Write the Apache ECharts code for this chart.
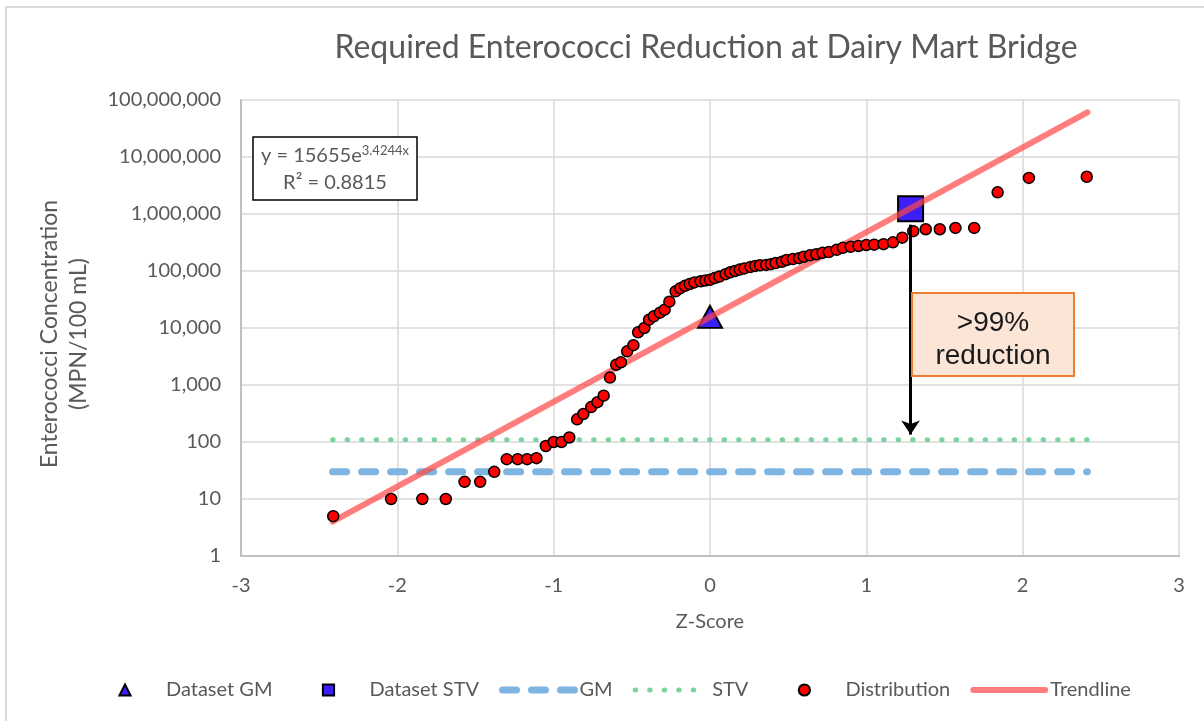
<!DOCTYPE html>
<html>
<head>
<meta charset="utf-8">
<style>
  html, body { margin: 0; padding: 0; background: #fff; }
  #chart { width: 1204px; height: 721px; }
</style>
<script src="https://cdn.jsdelivr.net/npm/echarts@6/dist/echarts.min.js"></script>
</head>
<body>
<div id="chart"></div>
<script>
// z-scores and concentrations of the ranked samples
const distZ = [
  -2.41, -2.04, -1.84, -1.69, -1.57, -1.47, -1.38, -1.30, -1.23, -1.17,
  -1.11, -1.05, -1.00, -0.95, -0.90, -0.85, -0.81, -0.76, -0.72, -0.68,
  -0.64, -0.60, -0.57, -0.53, -0.49, -0.46, -0.42, -0.39, -0.36, -0.32,
  -0.29, -0.26, -0.22, -0.19, -0.16, -0.13, -0.10, -0.06, -0.03, 0.00,
  0.03, 0.06, 0.10, 0.13, 0.16, 0.19, 0.22, 0.26, 0.29, 0.32,
  0.36, 0.39, 0.42, 0.46, 0.49, 0.53, 0.57, 0.60, 0.64, 0.68,
  0.72, 0.76, 0.81, 0.85, 0.90, 0.95, 1.00, 1.05, 1.11, 1.17,
  1.23, 1.30, 1.38, 1.47, 1.57, 1.69, 1.84, 2.04, 2.41
]
const distValues = [
  5, 10, 10, 10, 20, 20, 30, 50, 50, 50,
  52, 85, 100, 100, 120, 250, 310, 410, 500, 650,
  1350, 2270, 2500, 3900, 5000, 8400, 10000, 14000, 16000, 18600,
  21000, 29000, 44000, 50000, 55000, 59000, 63000, 66000, 68000, 70000,
  75000, 80000, 88000, 95000, 100000, 106000, 111000, 118000, 123000, 126000,
  128000, 132000, 138000, 145000, 156000, 162000, 168000, 178000, 188000, 197000,
  208000, 215000, 235000, 255000, 265000, 275000, 286000, 290000, 296000, 318000,
  385000, 500000, 540000, 540000, 570000, 570000, 2400000, 4300000, 4500000
]

const datasetGM = [0, 15700]
const datasetSTV = [1.283, 1240000]
const criteriaZ = [-2.414, 2.414]
const gmCriterion = 30
const stvCriterion = 110
const trendZ = [-2.414, 2.414]
const trendValues = [4.02, 60900000]
const arrowFrom = [1.283, 650000]
const arrowTo = [1.283, 135]

const FONT = 'Lato, "Open Sans", sans-serif'
const GREY = '#595959'

const chart = echarts.init(document.getElementById('chart'))

chart.setOption({
  animation: false,
  backgroundColor: '#fff',
  title: {
    text: 'Required Enterococci Reduction at Dairy Mart Bridge',
    left: 701,
    top: 27,
    textAlign: 'center',
    textStyle: { fontFamily: FONT, fontWeight: 400, fontSize: 32, color: GREY }
  },
  grid: { left: 241, right: 25, top: 100, bottom: 165 },
  legend: {
    left: 84,
    top: 675,
    itemWidth: 72,
    itemHeight: 14,
    itemGap: 20,
    selectedMode: false,
    textStyle: { fontFamily: FONT, fontSize: 20, color: GREY },
    data: [
      { name: 'Dataset GM' },
      { name: 'Dataset STV' },
      { name: 'GM', itemStyle: { opacity: 0 }, lineStyle: { width: 7 } },
      { name: 'STV', itemStyle: { opacity: 0 }, lineStyle: { width: 5 } },
      { name: 'Distribution' },
      { name: 'Trendline', itemStyle: { opacity: 0 }, lineStyle: { width: 6 } }
    ]
  },
  xAxis: {
    type: 'value',
    min: -3,
    max: 3,
    interval: 1,
    name: 'Z-Score',
    nameLocation: 'middle',
    nameGap: 56,
    nameTextStyle: { fontFamily: FONT, fontSize: 20, color: GREY },
    axisLine: { onZero: false, lineStyle: { color: '#BFBFBF', width: 2 } },
    axisTick: { show: false },
    axisLabel: { fontFamily: FONT, fontSize: 20, color: GREY, margin: 20 },
    splitLine: { lineStyle: { color: '#D9D9D9', width: 1.5 } }
  },
  yAxis: {
    type: 'log',
    logBase: 10,
    min: 1,
    max: 100000000,
    interval: 1,
    axisLine: { show: true, onZero: false, lineStyle: { color: '#BFBFBF', width: 2 } },
    axisTick: { show: false },
    axisLabel: {
      fontFamily: FONT, fontSize: 20, color: GREY, margin: 20,
      formatter: (v) => Math.round(v).toLocaleString('en-US')
    },
    splitLine: { lineStyle: { color: '#D9D9D9', width: 1.5 } }
  },
  series: [
    {
      name: 'Dataset GM',
      type: 'line',
      data: [datasetGM],
      symbol: 'triangle',
      symbolSize: [24, 22],
      itemStyle: { color: '#3C1EF8', borderColor: '#000', borderWidth: 2 },
      lineStyle: { width: 0 },
      z: 2,
      silent: true
    },
    {
      name: 'Dataset STV',
      type: 'line',
      data: [datasetSTV],
      symbol: 'rect',
      symbolSize: 25,
      itemStyle: { color: '#3C1EF8', borderColor: '#000', borderWidth: 2 },
      lineStyle: { width: 0 },
      z: 2,
      silent: true,
      markLine: {
        silent: true,
        symbol: ['none', 'arrow'],
        symbolSize: [14, 14],
        label: { show: false },
        lineStyle: { color: '#000', width: 3, type: 'solid' },
        emphasis: { disabled: true },
        data: [[{ coord: arrowFrom }, { coord: arrowTo }]]
      }
    },
    {
      name: 'GM',
      type: 'line',
      data: criteriaZ.map((z) => [z, gmCriterion]),
      symbol: 'none',
      lineStyle: { color: '#7EB4E2', width: 7, type: [14, 15], cap: 'round' },
      itemStyle: { color: '#7EB4E2' },
      z: 2,
      silent: true
    },
    {
      name: 'STV',
      type: 'line',
      data: criteriaZ.map((z) => [z, stvCriterion]),
      symbol: 'none',
      lineStyle: { color: '#7DD3A0', width: 5, type: [0.5, 14], cap: 'round' },
      itemStyle: { color: '#7DD3A0' },
      z: 2,
      silent: true
    },
    {
      name: 'Distribution',
      type: 'line',
      data: distZ.map((z, i) => [z, distValues[i]]),
      symbol: 'circle',
      symbolSize: 11,
      itemStyle: { color: '#FF0000', borderColor: '#000', borderWidth: 1.5 },
      lineStyle: { width: 0 },
      z: 4,
      silent: true
    },
    {
      name: 'Trendline',
      type: 'line',
      data: trendZ.map((z, i) => [z, trendValues[i]]),
      symbol: 'none',
      lineStyle: { color: 'rgba(255, 70, 70, 0.7)', width: 6, cap: 'round' },
      itemStyle: { color: 'rgba(255, 70, 70, 0.7)' },
      z: 3,
      silent: true
    }
  ],
  graphic: [
    {
      type: 'rect',
      z: 0,
      silent: true,
      shape: { x: 6, y: 7, width: 1400, height: 900 },
      style: { fill: 'none', stroke: '#D9D9D9', lineWidth: 2 }
    },
    {
      type: 'text',
      z: 100,
      x: 64,
      y: 334,
      rotation: Math.PI / 2,
      style: {
        text: 'Enterococci Concentration\n(MPN/100 mL)',
        fontFamily: FONT, fontSize: 23, lineHeight: 29, fill: GREY,
        textAlign: 'center', textVerticalAlign: 'middle'
      }
    },
    {
      type: 'rect',
      z: 100,
      shape: { x: 253, y: 137, width: 164, height: 63 },
      style: { fill: '#fff', stroke: '#000', lineWidth: 1.5 }
    },
    {
      type: 'text',
      z: 101,
      x: 335,
      y: 156,
      style: {
        text: '{a|y = 15655e}{b|3.4244x}',
        textAlign: 'center',
        textVerticalAlign: 'middle',
        rich: {
          a: { fontFamily: FONT, fontSize: 20, lineHeight: 24, fill: GREY },
          b: { fontFamily: FONT, fontSize: 13, lineHeight: 14, fill: GREY, verticalAlign: 'top' }
        }
      }
    },
    {
      type: 'text',
      z: 101,
      x: 335,
      y: 183,
      style: {
        text: 'R² = 0.8815',
        fontFamily: FONT, fontSize: 20, fill: GREY,
        textAlign: 'center', textVerticalAlign: 'middle'
      }
    },
    {
      type: 'rect',
      z: 100,
      shape: { x: 912, y: 293, width: 162, height: 83 },
      style: { fill: '#FBE5D6', stroke: '#ED7D31', lineWidth: 2 }
    },
    {
      type: 'text',
      z: 101,
      x: 993,
      y: 340,
      style: {
        text: '>99%\nreduction',
        fontFamily: '"Liberation Sans", Arial, sans-serif', fontSize: 28, lineHeight: 33,
        fill: '#1A1A1A', textAlign: 'center', textVerticalAlign: 'middle'
      }
    }
  ]
})
</script>
</body>
</html>
